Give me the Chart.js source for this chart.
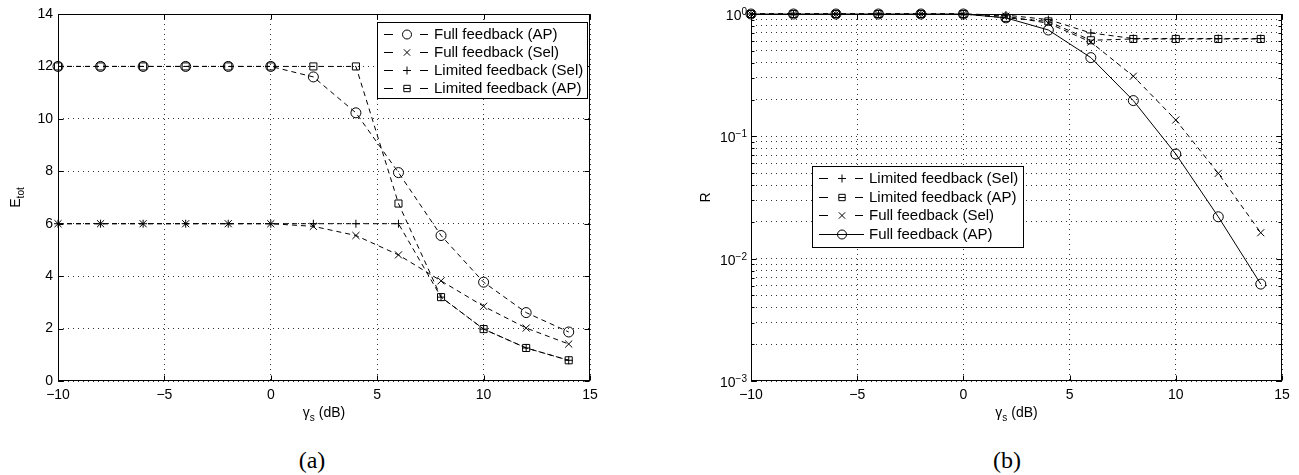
<!DOCTYPE html>
<html>
<head>
<meta charset="utf-8">
<script src="https://cdn.jsdelivr.net/npm/chart.js@4.4.1/dist/chart.umd.min.js"></script>
<style>
  html, body { margin: 0; padding: 0; background: #fff; }
  #wrap { position: relative; width: 1299px; height: 475px; overflow: hidden; }
  .box { position: absolute; top: 0; height: 430px; }
  #boxA { left: 0; width: 620px; }
  #boxB { left: 680px; width: 619px; }
  .cap { position: absolute; top: 447px; line-height: 26px; font-family: 'Liberation Serif', 'Times New Roman', serif; font-size: 24px; transform: translateX(-50%); }
</style>
</head>
<body>
<div id="wrap">
  <div class="box" id="boxA"><canvas id="chartA" width="620" height="430"></canvas></div>
  <div class="box" id="boxB"><canvas id="chartB" width="619" height="430"></canvas></div>
  <div class="cap" style="left:312px">(a)</div>
  <div class="cap" style="left:1007px">(b)</div>
</div>
<script>
// signal to noise ratio, dB
const gammaDb = [-10, -8, -6, -4, -2, 0, 2, 4, 6, 8, 10, 12, 14];

// (a) E_tot
const eFullAP  = [12, 12, 12, 12, 12, 12, 11.6, 10.23, 7.95, 5.55, 3.77, 2.61, 1.87];
const eFullSel = [6, 6, 6, 6, 6, 6, 5.9, 5.55, 4.81, 3.82, 2.85, 2.02, 1.41];
const eLimSel  = [6, 6, 6, 6, 6, 6, 6, 6, 6, 3.2, 1.98, 1.26, 0.79];
const eLimAP   = [12, 12, 12, 12, 12, 12, 12, 12, 6.77, 3.2, 1.98, 1.26, 0.79];

// (b) R
const rLimSel  = [1, 1, 1, 1, 1, 1, 0.98, 0.9, 0.7, 0.63, 0.63, 0.63, 0.63];
const rLimAP   = [1, 1, 1, 1, 1, 1, 0.93, 0.87, 0.61, 0.625, 0.625, 0.625, 0.625];
const rFullSel = [1, 1, 1, 1, 1, 1, 0.96, 0.84, 0.59, 0.31, 0.136, 0.0498, 0.0163];
const rFullAP  = [1, 1, 1, 1, 1, 1, 0.93, 0.74, 0.44, 0.196, 0.0717, 0.022, 0.0062];

// ticks
const xTicks = [-10, -5, 0, 5, 10, 15];
const yTicksA = [0, 2, 4, 6, 8, 10, 12, 14];
const rDecades = [-3, -2, -1, 0];

const FONT = "'Liberation Sans', Arial, Helvetica, sans-serif";
Chart.defaults.font.family = FONT;
Chart.defaults.font.size = 14;
Chart.defaults.color = '#000';

const pts = ys => gammaDb.map((x, i) => ({ x: x, y: ys[i] }));

function series(label, ys, style, r, dashed) {
  return {
    label: label,
    data: pts(ys),
    borderColor: '#000',
    borderWidth: 1,
    borderDash: dashed ? [5, 4] : [],
    pointStyle: style,
    pointRadius: r,
    pointHoverRadius: r,
    pointBorderColor: '#000',
    pointBackgroundColor: 'rgba(0,0,0,0)',
    pointBorderWidth: 1,
    tension: 0,
    clip: false
  };
}

function drawMarker(ctx, style, x, y, r) {
  ctx.beginPath();
  if (style === 'circle') {
    ctx.arc(x, y, r, 0, Math.PI * 2);
  } else if (style === 'rect') {
    const s = r * Math.SQRT1_2;
    ctx.rect(x - s, y - s, 2 * s, 2 * s);
    ctx.moveTo(x - s, y); ctx.lineTo(x + s, y);
  } else if (style === 'cross') {
    ctx.moveTo(x - r, y); ctx.lineTo(x + r, y);
    ctx.moveTo(x, y - r); ctx.lineTo(x, y + r);
  } else if (style === 'crossRot') {
    const s = r * Math.SQRT1_2;
    ctx.moveTo(x - s, y - s); ctx.lineTo(x + s, y + s);
    ctx.moveTo(x - s, y + s); ctx.lineTo(x + s, y - s);
  }
  ctx.stroke();
}

const matlabFrame = {
  id: 'matlabFrame',
  afterDatasetsDraw(chart, args, opts) {
    const { ctx, chartArea: a, scales } = chart;
    ctx.save();
    ctx.strokeStyle = '#000';
    ctx.lineWidth = 1;
    ctx.setLineDash([]);
    const L = Math.round(a.left) + 0.5, R = Math.round(a.right) - 0.5;
    const T = Math.round(a.top) + 0.5, B = Math.round(a.bottom) - 0.5;
    ctx.strokeRect(L, T, R - L, B - T);
    ctx.beginPath();
    scales.x.ticks.forEach(t => {
      const px = Math.round(scales.x.getPixelForValue(t.value)) + 0.5;
      ctx.moveTo(px, B); ctx.lineTo(px, B - 5);
      ctx.moveTo(px, T); ctx.lineTo(px, T + 5);
    });
    scales.y.ticks.forEach(t => {
      const py = Math.round(scales.y.getPixelForValue(t.value)) + 0.5;
      const len = t.major === false ? 3 : 5;
      ctx.moveTo(L, py); ctx.lineTo(L + len, py);
      ctx.moveTo(R, py); ctx.lineTo(R - len, py);
    });
    ctx.stroke();
    ctx.restore();
  },
  afterDraw(chart, args, opts) {
    const { ctx, chartArea: a, scales } = chart;
    ctx.save();
    ctx.fillStyle = '#000';

    // x title: gamma_s (dB)
    const cx = (a.left + a.right) / 2;
    ctx.font = '14px ' + FONT;
    const w1 = ctx.measureText('γ').width, w3 = ctx.measureText(' (dB)').width;
    ctx.font = '10px ' + FONT;
    const w2 = ctx.measureText('s').width;
    let x0 = cx - (w1 + w2 + w3) / 2;
    const by = a.bottom + 36;
    ctx.textBaseline = 'alphabetic';
    ctx.textAlign = 'left';
    ctx.font = '14px ' + FONT;
    ctx.fillText('γ', x0, by);
    ctx.font = '10px ' + FONT;
    ctx.fillText('s', x0 + w1, by + 4);
    ctx.font = '14px ' + FONT;
    ctx.fillText(' (dB)', x0 + w1 + w2, by);

    // y title
    ctx.save();
    ctx.translate(opts.yTitleX, (a.top + a.bottom) / 2);
    ctx.rotate(-Math.PI / 2);
    ctx.font = '14px ' + FONT;
    const m = ctx.measureText(opts.yTitle).width;
    let sw = 0;
    if (opts.ySub) { ctx.font = '10px ' + FONT; sw = ctx.measureText(opts.ySub).width; }
    ctx.font = '14px ' + FONT;
    ctx.fillText(opts.yTitle, -(m + sw) / 2, 0);
    if (opts.ySub) { ctx.font = '10px ' + FONT; ctx.fillText(opts.ySub, -(m + sw) / 2 + m, 4); }
    ctx.restore();

    // log tick labels 10^n
    if (opts.logLabels) {
      rDecades.forEach(e => {
        const py = scales.y.getPixelForValue(Math.pow(10, e));
        const ex = e < 0 ? '−' + (-e) : String(e);
        ctx.font = '10px ' + FONT;
        const wE = ctx.measureText(ex).width;
        ctx.font = '14px ' + FONT;
        const wB = ctx.measureText('10').width;
        const right = a.left - 4;
        ctx.fillText('10', right - wE - wB, py + 6);
        ctx.font = '10px ' + FONT;
        ctx.fillText(ex, right - wE, py + 1);
      });
    }

    // legend box
    const lg = opts.legend;
    ctx.fillStyle = '#fff';
    ctx.fillRect(lg.x, lg.y, lg.w, lg.h);
    ctx.strokeStyle = '#000';
    ctx.lineWidth = 1;
    ctx.strokeRect(lg.x + 0.5, lg.y + 0.5, lg.w, lg.h);
    ctx.fillStyle = '#000';
    ctx.font = '15px ' + FONT;
    ctx.textBaseline = 'middle';
    chart.data.datasets.forEach((ds, i) => {
      const y = Math.round(lg.y + lg.first + i * lg.step) + 0.5;
      ctx.beginPath();
      if (ds.borderDash.length) {
        ctx.moveTo(lg.x + 7, y); ctx.lineTo(lg.x + 16, y);
        ctx.moveTo(lg.x + 43, y); ctx.lineTo(lg.x + 51, y);
      } else {
        ctx.moveTo(lg.x + 7, y); ctx.lineTo(lg.x + 52, y);
      }
      ctx.stroke();
      drawMarker(ctx, ds.pointStyle, lg.x + 30, y, ds.pointStyle === 'cross' ? 4 : 4.5);
      ctx.fillText(ds.label, lg.x + 57, y);
    });
    ctx.restore();
  }
};

function setTicks(list, isMajor) {
  return scale => {
    scale.ticks = list.map(v => ({ value: v, major: isMajor ? isMajor(v) : true }));
  };
}

function xScale() {
  return {
    type: 'linear',
    min: -10,
    max: 15,
    afterBuildTicks: setTicks(xTicks),
    afterFit: s => { s.height = 49; },
    ticks: {
      padding: 6,
      maxRotation: 0,
      autoSkip: false,
      callback: v => (v < 0 ? '−' + Math.abs(v) : String(v))
    },
    grid: { color: '#333', lineWidth: 1, drawTicks: false },
    border: { display: false, dash: [1, 4] }
  };
}

const cfgA = {
  type: 'line',
  data: {
    datasets: [
      series('Full feedback (AP)', eFullAP, 'circle', 5, true),
      series('Full feedback (Sel)', eFullSel, 'crossRot', 5, true),
      series('Limited feedback (Sel)', eLimSel, 'cross', 4, true),
      series('Limited feedback (AP)', eLimAP, 'rect', 5, true)
    ]
  },
  options: {
    responsive: false,
    animation: false,
    layout: { padding: { left: 0, right: 30, top: 14, bottom: 0 } },
    scales: {
      x: xScale(),
      y: {
        type: 'linear',
        min: 0,
        max: 14,
        afterBuildTicks: setTicks(yTicksA),
        afterFit: s => { s.width = 58; },
        ticks: { padding: 5, autoSkip: false },
        grid: { color: '#333', lineWidth: 1, drawTicks: false },
        border: { display: false, dash: [1, 4] }
      }
    },
    plugins: {
      legend: { display: false },
      tooltip: { enabled: false },
      matlabFrame: {
        yTitle: 'E', ySub: 'tot', yTitleX: 20,
        legend: { x: 377, y: 22, w: 210, h: 76, first: 11.5, step: 18.2 }
      }
    }
  },
  plugins: [matlabFrame]
};

const logGrid = [];
rDecades.slice(0, -1).forEach(e => {
  for (let s = 1; s <= 9; s++) logGrid.push(+(s * Math.pow(10, e)).toPrecision(3));
});
logGrid.push(1);

const cfgB = {
  type: 'line',
  data: {
    datasets: [
      series('Limited feedback (Sel)', rLimSel, 'cross', 4, true),
      series('Limited feedback (AP)', rLimAP, 'rect', 5, true),
      series('Full feedback (Sel)', rFullSel, 'crossRot', 5, true),
      series('Full feedback (AP)', rFullAP, 'circle', 5, false)
    ]
  },
  options: {
    responsive: false,
    animation: false,
    layout: { padding: { left: 0, right: 17, top: 14, bottom: 0 } },
    scales: {
      x: xScale(),
      y: {
        type: 'logarithmic',
        min: 0.001,
        max: 1,
        afterBuildTicks: setTicks(logGrid, v => Math.abs(Math.log10(v) - Math.round(Math.log10(v))) < 1e-9),
        afterFit: s => { s.width = 71; },
        ticks: { display: false },
        grid: { color: '#333', lineWidth: 1, drawTicks: false },
        border: { display: false, dash: [1, 4] }
      }
    },
    plugins: {
      legend: { display: false },
      tooltip: { enabled: false },
      matlabFrame: {
        yTitle: 'R', ySub: '', yTitleX: 30, logLabels: true,
        legend: { x: 132, y: 166, w: 211, h: 81, first: 12.3, step: 18.4 }
      }
    }
  },
  plugins: [matlabFrame]
};

new Chart(document.getElementById('chartA'), cfgA);
new Chart(document.getElementById('chartB'), cfgB);
</script>
</body>
</html>
